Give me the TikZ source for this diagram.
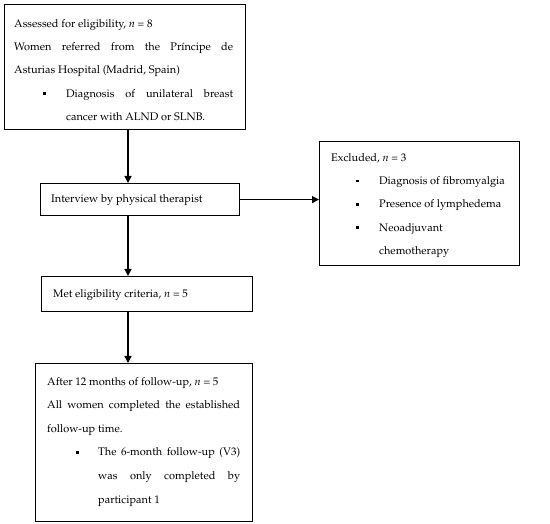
\documentclass[tikz,border=0pt]{standalone}
\usepackage[T1]{fontenc}
\usepackage{mathpazo}
\usetikzlibrary{arrows.meta}
\newcommand{\sqbul}{\rule[2.2pt]{2.6pt}{2.6pt}}
\newcommand{\bitem}[3]{\par\leftskip=#1pt\noindent\llap{\makebox[#2pt][l]{\sqbul}}#3\par}
\newcommand{\blk}[3]{\begin{minipage}[t]{#1pt}\fontsize{11}{23.3}\selectfont\hyphenpenalty=10000\exhyphenpenalty=10000\emergencystretch=20pt#2\parindent=0pt\noindent #3\end{minipage}}
\tikzset{
  box/.style={draw, line width=1.2pt, inner sep=0pt, anchor=north west},
  txt/.style={inner sep=0pt, anchor=north west, font=\fontsize{11}{23.3}\selectfont},
  arr/.style={line width=1.4pt, -{Triangle[length=7pt,width=7pt]}},
}
\begin{document}
\begin{tikzpicture}[x=1pt,y=-1pt]
\useasboundingbox (0,0) rectangle (550,524);
% boxes
\node[box, minimum width=241pt, minimum height=125pt] (b1) at (4,4) {};
\node[box, minimum width=199pt, minimum height=32pt] (b2) at (40,183) {};
\node[box, minimum width=200pt, minimum height=124pt] (b5) at (319,141) {};
\node[box, minimum width=211pt, minimum height=35pt] (b3) at (41,276) {};
\node[box, minimum width=217pt, minimum height=158pt] (b4) at (35,363) {};
% texts
\node[txt] (t1) at (14,19) {\blk{219}{}{%
Assessed for eligibility, \textit{n} = 8\par\noindent
Women referred from the Príncipe de Asturias Hospital (Madrid, Spain)
\bitem{52}{23}{Diagnosis of unilateral breast cancer with ALND or SLNB.}}};
\node[txt, anchor=west] (t2) at (51,200) {Interview by physical therapist};
\node[txt] (t5) at (331,153) {\blk{174}{\raggedright}{%
Excluded, \textit{n} = 3
\bitem{48}{23}{Diagnosis of fibromyalgia}
\bitem{48}{23}{Presence of lymphedema}
\bitem{48}{23}{Neoadjuvant chemotherapy}}};
\node[txt, anchor=west] (t3) at (53,295) {Met eligibility criteria, \textit{n} = 5};
\node[txt] (t4) at (47,377) {\blk{193}{}{\fontsize{11}{23.6}\selectfont
After 12 months of follow-up, \textit{n} = 5\par\noindent
All women completed the established follow-up time.
\bitem{51}{22}{The 6-month follow-up (V3) was only completed by participant 1}}};
% arrows
\draw[arr] (b1.south -| 128,0) -- (b2.north -| 128,0);
\draw[arr] (b2.east) -- (b2.east -| b5.west);
\draw[arr] (b2.south -| 128,0) -- (b3.north -| 128,0);
\draw[arr] (b3.south -| 128,0) -- (b4.north -| 128,0);
\end{tikzpicture}
\end{document}
